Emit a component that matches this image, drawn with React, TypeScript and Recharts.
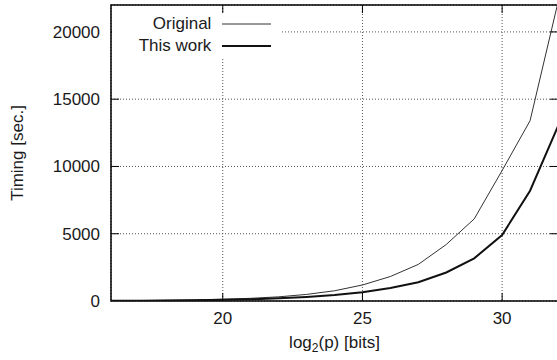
import { LineChart, Line, XAxis, YAxis, CartesianGrid, ReferenceArea, Legend } from 'recharts'

const bits = [16, 17, 18, 19, 20, 21, 22, 23, 24, 25, 26, 27, 28, 29, 30, 31, 32]
const original = [20, 30, 50, 80, 130, 200, 310, 490, 760, 1190, 1820, 2720, 4200, 6100, 9700, 13400, 22200]
const thisWork = [15, 22, 35, 55, 85, 130, 200, 300, 440, 650, 960, 1390, 2120, 3170, 4900, 8200, 13000]
const xTicks = [20, 25, 30]
const yTicks = [0, 5000, 10000, 15000, 20000]

const data = bits.map((b, i) => ({ bits: b, original: original[i], thisWork: thisWork[i] }))

const W = 560
const H = 360
const TOP = 5
const LEFT = 111
const RIGHT = 2
const XAX_H = 59
const PLOT_R = W - RIGHT
const PLOT_B = H - XAX_H
const FONT = '"Liberation Sans", Arial, sans-serif'
const INK = '#1a1a1a'

const widths: Record<string, number> = { original: 1, thisWork: 2 }

function YTick(props: any) {
  const { x, y, payload } = props
  return (
    <g>
      <text x={x} y={y} dy="0.355em" textAnchor="end" fontFamily={FONT} fontSize={17} fill={INK}>
        {payload.value}
      </text>
      {payload.value !== 0 && (
        <>
          <line x1={LEFT} x2={LEFT + 8} y1={y} y2={y} stroke="#000" />
          <line x1={PLOT_R - 8} x2={PLOT_R} y1={y} y2={y} stroke="#000" />
        </>
      )}
    </g>
  )
}

function XTick(props: any) {
  const { x, y, payload } = props
  return (
    <g>
      <text x={x} y={y} dy="0.71em" textAnchor="middle" fontFamily={FONT} fontSize={17} fill={INK}>
        {payload.value}
      </text>
      <line x1={x} x2={x} y1={PLOT_B} y2={PLOT_B - 8} stroke="#000" />
      <line x1={x} x2={x} y1={TOP} y2={TOP + 8} stroke="#000" />
    </g>
  )
}

function KeyBox({ payload }: any) {
  return (
    <div style={{ width: 170, height: 44, background: '#fff', fontFamily: FONT, fontSize: 17, color: INK }}>
      {(payload || []).map((e: any) => (
        <div key={e.value} style={{ display: 'flex', alignItems: 'center', height: 22 }}>
          <span style={{ width: 100, textAlign: 'right', whiteSpace: 'nowrap' }}>{e.value}</span>
          <svg width={60} height={22} style={{ marginLeft: 11 }}>
            <line x1={0} x2={49} y1={11} y2={11} stroke={e.color} strokeWidth={widths[e.dataKey] ?? 1} />
          </svg>
        </div>
      ))}
    </div>
  )
}

export default function App() {
  return (
    <div style={{ position: 'absolute', left: 0, top: 0, width: 557, height: 360, overflow: 'hidden', background: '#fff' }}>
      <LineChart width={W} height={H} data={data} margin={{ top: TOP, right: RIGHT, bottom: 0, left: 0 }}>
        <CartesianGrid stroke="#555" strokeDasharray="1 2" />
        <XAxis
          dataKey="bits"
          type="number"
          domain={[16, 32]}
          ticks={xTicks}
          height={XAX_H}
          axisLine={false}
          tickLine={false}
          tickSize={0}
          tickMargin={11}
          tick={<XTick />}
          label={{
            content: (p: any) => {
              const vb = p.viewBox
              return (
                <text x={vb.x + vb.width / 2} y={vb.y + 47} textAnchor="middle" fontFamily={FONT} fontSize={17} fill={INK}>
                  log<tspan fontSize={12} dy={4}>2</tspan>
                  <tspan dy={-4}>(p) [bits]</tspan>
                </text>
              )
            },
          }}
        />
        <YAxis
          type="number"
          domain={[0, 22000]}
          ticks={yTicks}
          allowDataOverflow
          width={LEFT}
          axisLine={false}
          tickLine={false}
          tickSize={0}
          tickMargin={11}
          tick={<YTick />}
          label={{
            content: (p: any) => {
              const vb = p.viewBox
              const cx = vb.x + 23
              const cy = vb.y + vb.height / 2
              return (
                <text x={cx} y={cy} transform={`rotate(-90 ${cx} ${cy})`} textAnchor="middle" fontFamily={FONT} fontSize={17} fill={INK}>
                  Timing [sec.]
                </text>
              )
            },
          }}
        />
        <ReferenceArea x1={16} x2={32} y1={0} y2={22000} fill="none" stroke="#000" strokeWidth={1.5} ifOverflow="visible" />
        <Line type="linear" dataKey="original" name="Original" stroke="#333" strokeWidth={1} dot={false} isAnimationActive={false} />
        <Line type="linear" dataKey="thisWork" name="This work" stroke="#111" strokeWidth={2} dot={false} isAnimationActive={false} />
        <Legend
          layout="vertical"
          align="center"
          verticalAlign="middle"
          content={<KeyBox />}
          wrapperStyle={{ left: 112, top: 13, width: 170, height: 44 }}
        />
      </LineChart>
    </div>
  )
}
